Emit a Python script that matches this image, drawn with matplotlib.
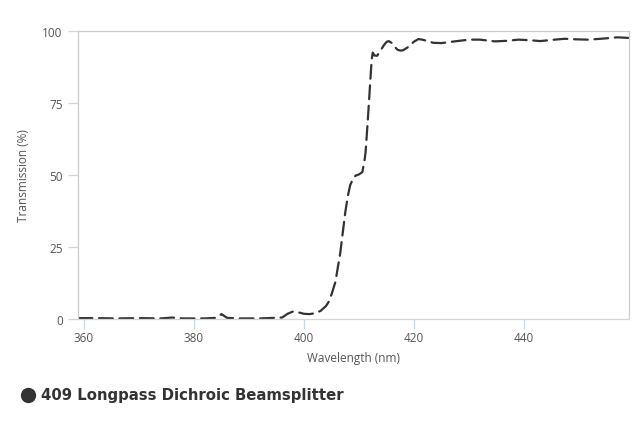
import matplotlib
matplotlib.use("Agg")
import matplotlib.pyplot as plt
from matplotlib.lines import Line2D

# transmission curve
wavelength = [359, 362, 366, 370, 374, 376, 378, 382, 384, 385, 386, 388, 392, 396,
              397, 398, 399, 400, 401, 402, 403, 404, 404.5, 405, 405.7, 406.6, 407.5,
              408, 408.4, 409, 409.4, 410, 410.6, 411, 411.2, 411.6, 412, 412.3, 412.5,
              412.8, 413.3, 414, 414.5, 415, 415.4, 416, 416.5, 417, 417.5, 418, 419,
              420, 420.8, 421.5, 422.5, 423.5, 425, 427, 430, 432, 434.7, 437, 439, 441,
              443, 445, 447.4, 449.5, 451.6, 454, 457, 459]
transmission = [0.3, 0.3, 0.2, 0.3, 0.2, 0.5, 0.2, 0.2, 0.4, 1.7, 0.4, 0.2, 0.2, 0.5,
                1.8, 2.6, 2.3, 1.8, 1.7, 2.0, 2.8, 4.5, 6.0, 8.5, 12.8, 23, 37,
                43, 46.5, 49, 49.8, 50.2, 51, 55, 58, 69, 81, 90, 92.5,
                91.5, 91.4, 93.5, 95, 96.2, 96.5, 95.8, 94.5, 93.5, 93.2, 93.3, 94.5,
                96.3, 97.2, 97, 96.5, 95.9, 95.8, 96.3, 97, 97, 96.4, 96.6, 97, 96.8,
                96.5, 96.9, 97.3, 97.1, 97, 97.3, 97.8, 97.6]

x_ticks = [360, 380, 400, 420, 440]
y_ticks = [0, 25, 50, 75, 100]
series_name = "409 Longpass Dichroic Beamsplitter"

plt.rcParams["font.family"] = ["Open Sans", "DejaVu Sans"]

fig = plt.figure(figsize=(6.4, 4.27), dpi=100)
ax = fig.add_axes([78 / 640, 1 - 320 / 427, 551 / 640, 288 / 427])

line, = ax.plot(wavelength, transmission, color="#333333", linewidth=1.6,
                linestyle=(0, (6.2, 3.0)))
line.set_dash_capstyle("round")

ax.set_xlim(358.9, 459.1)
ax.set_ylim(0, 100)
ax.set_xticks(x_ticks)
ax.set_yticks(y_ticks)

for side in ["top", "left", "right"]:
    ax.spines[side].set_color("#cccccc")
    ax.spines[side].set_linewidth(0.9)
ax.spines["bottom"].set_color("#ccd6eb")
ax.spines["bottom"].set_linewidth(0.9)

ax.tick_params(axis="x", colors="#ccd6eb", length=7, width=0.9, labelcolor="#555555",
               labelsize=8.5, pad=2)
ax.tick_params(axis="y", colors="#ccd6eb", length=7, width=0.9, labelcolor="#555555",
               labelsize=8.5, pad=4)

ax.set_xlabel("Wavelength (nm)", fontsize=8.5, color="#555555", labelpad=5)
ax.set_ylabel("Transmission (%)", fontsize=8.5, color="#555555", labelpad=9)

# legend row under the chart
fig.add_artist(Line2D([28 / 640], [1 - 396 / 427], marker="o", markersize=10,
                      color="#333333", transform=fig.transFigure))
fig.text(41 / 640, 1 - 396 / 427, series_name, fontsize=10.7, fontweight="bold",
         color="#333333", va="center", ha="left", family=["DejaVu Sans"])

fig.savefig("out.png", dpi=100)
